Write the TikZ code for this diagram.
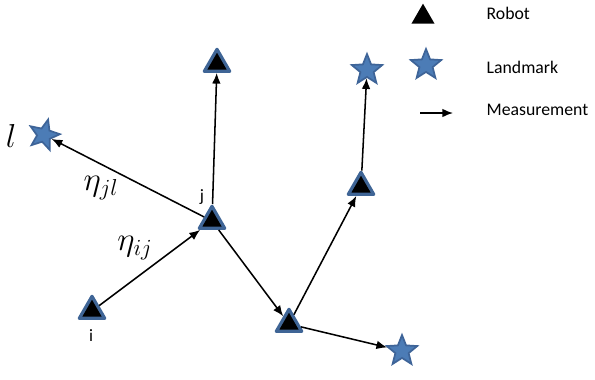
\documentclass[tikz,border=0pt]{standalone}
\usepackage{fontspec}
\setmainfont{Carlito}
\usetikzlibrary{positioning}
\usetikzlibrary{arrows.meta,shapes}
\definecolor{robotline}{RGB}{63,101,150}
\definecolor{starfill}{RGB}{76,124,182}
\definecolor{starline}{RGB}{62,100,152}
\tikzstyle{edge} = [draw,line width=1.15pt,-{Latex[length=8pt,width=6.5pt]}]
\tikzstyle{robot} = [regular polygon,regular polygon sides=3,fill=black,draw=robotline,line width=2.4pt,line join=round,inner sep=0pt,minimum size=22pt]
\tikzstyle{landmark} = [star,star points=5,star point ratio=2.3,fill=starfill,draw=starline,line width=1.3pt,inner sep=0pt,minimum size=24pt]
\tikzstyle{legendtext} = [anchor=base west,font=\fontsize{13.3}{16}\selectfont]
\tikzstyle{idtag} = [font=\fontsize{13}{15}\selectfont]
\tikzstyle{mathtag} = [font=\fontsize{24}{28}\selectfont]

\begin{document}
\begin{tikzpicture}[x=0.75pt,y=-0.75pt]
\useasboundingbox (0,0) rectangle (595,379);

% robots
\node[robot] (i) at (92,311) {};
\node[robot] (j) at (212,221) {};
\node[robot] (rtop) at (217,64) {};
\node[robot] (rmid) at (289,324) {};
\node[robot] (rright) at (361,187) {};

% landmarks
\node[landmark,rotate=-15] (l) at (44,135) {};
\node[landmark] (ltop) at (367,70) {};
\node[landmark] (lbot) at (402,351) {};

% measurements
\path[edge] (i) -- (j);
\path[edge] (j) -- (l);
\path[edge] (j) -- (rtop);
\path[edge] (j) -- (rmid);
\path[edge] (rmid) -- (rright);
\path[edge] (rright) -- (ltop);
\path[edge] (rmid) -- (lbot);

% labels
\node[idtag] (ilabel) at (91,336) {i};
\node[idtag] (jlabel) at (202,197) {j};
\node[mathtag] (lname) at (11,136) {$l$};
\node[mathtag] (etajl) at (101,188) {$\eta_{jl}$};
\node[mathtag] (etaij) at (135,248) {$\eta_{ij}$};

% legend
\node[regular polygon,regular polygon sides=3,fill=black,inner sep=0pt,minimum size=20pt] (keyrobot) at (423,17) {};
\node[landmark] (keylandmark) at (426,65) {};
\coordinate (keyfrom) at (420,113);
\coordinate (keyto) at (453,113);
\path[edge] (keyfrom) -- (keyto);
\node[legendtext] (robottext) at (482,19) {Robot};
\node[legendtext] (landmarktext) at (482,73) {Landmark};
\node[legendtext] (measuretext) at (482,115) {Measurement};

\end{tikzpicture}
\end{document}
